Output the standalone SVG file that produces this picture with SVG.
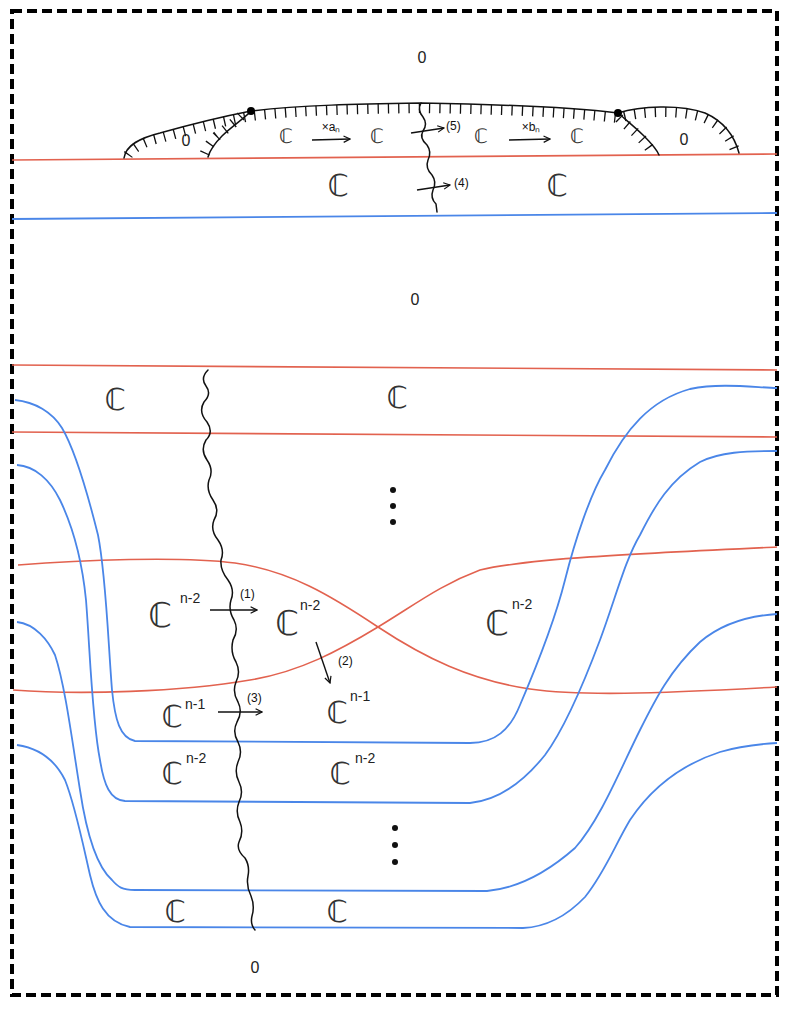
<svg xmlns="http://www.w3.org/2000/svg" width="792" height="1012" viewBox="0 0 792 1012">
<style>
.red{fill:none;stroke:#e2624f;stroke-width:1.6}
.blue{fill:none;stroke:#4a86e8;stroke-width:1.8}
.ink{fill:none;stroke:#111;stroke-width:1.5;stroke-linecap:round;stroke-linejoin:round}
.arr{fill:none;stroke:#111;stroke-width:1.4;marker-end:url(#ah)}
.C{font-family:"DejaVu Sans",sans-serif;fill:#333;text-anchor:middle;font-weight:normal}
.sup{font-family:"Liberation Sans",sans-serif;fill:#222;font-size:14px}
.lbl{font-family:"Liberation Sans",sans-serif;fill:#111;font-size:12px}
.zero{font-family:"Liberation Sans",sans-serif;fill:#222;font-size:16px;text-anchor:middle}
.tick{fill:none;stroke:#111;stroke-width:10;stroke-dasharray:1.3 9}
</style>
<defs>
<marker id="ah" viewBox="0 0 10 10" refX="9" refY="5" markerWidth="8" markerHeight="8" markerUnits="userSpaceOnUse" orient="auto">
<path d="M1,1 L9,5 L1,9" fill="none" stroke="#111" stroke-width="1.5"/>
</marker>
</defs>
<rect x="12" y="11" width="765" height="984" fill="#fff" stroke="#000" stroke-width="4" stroke-dasharray="10 5"/>

<g id="connectors">
<line class="red" x1="12" y1="160" x2="777" y2="154"/>
<line class="blue" x1="12" y1="219" x2="777" y2="213"/>
<line class="red" x1="12" y1="365" x2="777" y2="370"/>
<line class="red" x1="12" y1="432" x2="777" y2="437"/>
<path class="red" d="M18,565 C80,560 180,556 235,563 C290,571 330,595 378,627 C425,658 470,680 530,689 C580,696 650,694 777,687"/>
<path class="red" d="M13,690 C80,695 180,692 250,680 C300,672 340,650 378,627 C416,604 440,585 480,570 C530,558 650,553 777,547"/>
<path class="blue" d="M15,400 C35,402 52,412 62,428 C75,450 88,495 98,535 C106,575 108,640 112,690 C115,720 120,738 135,741 L470,743 C495,743 510,730 520,705 C535,670 555,620 565,580 C575,540 590,495 605,470 C625,430 650,400 690,389 C720,383 750,387 777,388"/>
<path class="blue" d="M17,465 C35,466 50,480 60,500 C72,525 82,560 86,600 C90,650 92,720 100,760 C104,785 110,800 125,801 L470,803 C500,800 525,780 545,755 C565,728 585,680 600,640 C615,600 625,560 640,535 C655,505 670,480 700,462 C720,452 745,451 777,451"/>
<path class="blue" d="M17,622 C35,624 48,640 55,655 C65,685 72,740 80,790 C86,830 95,865 112,880 C118,887 122,890 135,890 L487,891 C520,888 550,870 575,848 C600,820 620,770 640,730 C655,700 670,670 700,642 C720,625 745,616 777,614"/>
<path class="blue" d="M17,745 C38,748 55,760 65,780 C75,805 82,840 90,875 C96,900 105,922 130,927 L523,928 C545,927 565,918 585,897 C605,872 615,845 630,820 C650,790 680,765 720,752 C740,746 760,744 777,743"/>
</g>

<g id="cap">
<path class="ink" d="M124,158 C126,145 140,138 160,133 C185,126 215,118 251,111 C300,105 360,104 421,103 C480,104 560,106 618,113 C640,106 680,104 705,113 C725,122 735,138 739,153"/>
<path class="tick" transform="translate(0,5)" d="M128,150 C135,140 150,135 160,133 C185,126 215,118 251,111 C300,105 360,104 421,103 C480,104 560,106 618,113 C640,106 680,104 705,113 C722,121 730,132 735,145"/>
<path class="ink" d="M251,111 C245,118 232,126 222,136 C214,144 210,150 208,157"/>
<path class="tick" transform="translate(-5,0)" d="M246,116 C240,122 232,128 222,136 C214,144 211,150 209,155"/>
<path class="ink" d="M618,113 C626,120 636,128 644,136 C652,144 657,150 659,155"/>
<path class="tick" transform="translate(-5,0)" d="M624,118 C630,124 636,128 644,136 C652,144 656,150 658,154"/>
<circle cx="251" cy="111" r="4" fill="#000"/>
<circle cx="618" cy="113" r="4" fill="#000"/>
<path class="ink" d="M421,103 Q417,110 423,117 Q428,124 423,131 Q419,138 427,145 Q432,152 428,160 Q425,168 432,175 Q437,182 433,190 Q430,198 436,204 L437,212"/>
</g>

<g id="wall">
<path class="ink" d="M208,370 Q200,378 206,386 Q212,394 204,402 Q198,412 207,422 Q214,432 206,440 Q200,450 207,460 Q214,470 209,480 Q206,490 213,500 Q220,510 214,520 Q210,530 218,540 Q225,550 221,560 Q220,570 228,580 Q235,590 231,600 Q228,610 234,620 Q239,630 233,640 Q230,652 236,662 Q241,672 236,682 Q232,692 238,702 Q243,712 237,722 Q232,732 238,742 Q243,752 238,762 Q234,772 239,782 Q244,792 239,802 Q235,812 240,822 Q244,832 239,842 Q236,850 245,858 Q250,866 248,876 Q246,886 251,896 Q255,906 252,916 Q250,924 255,930"/>
</g>

<g id="top-labels">
<text class="zero" x="422" y="63">0</text>
<text class="zero" x="186" y="146">0</text>
<text class="zero" x="684" y="145">0</text>
<text class="C" x="286" y="143" font-size="20">ℂ</text>
<text class="C" x="377" y="143" font-size="20">ℂ</text>
<text class="C" x="481" y="143" font-size="20">ℂ</text>
<text class="C" x="577" y="143" font-size="20">ℂ</text>
<line class="arr" x1="312" y1="140" x2="350" y2="139"/>
<text class="lbl" x="331" y="131" text-anchor="middle">×aₙ</text>
<line class="arr" x1="509" y1="140" x2="550" y2="139"/>
<text class="lbl" x="531" y="131" text-anchor="middle">×bₙ</text>
<line class="arr" x1="411" y1="133" x2="444" y2="128"/>
<text class="lbl" x="446" y="130">(5)</text>
<text class="C" x="338" y="196" font-size="30">ℂ</text>
<text class="C" x="557" y="196" font-size="30">ℂ</text>
<line class="arr" x1="417" y1="190" x2="450" y2="185"/>
<text class="lbl" x="454" y="187">(4)</text>
<text class="zero" x="415" y="305">0</text>
</g>

<g id="middle-labels">
<text class="C" x="115" y="410" font-size="30">ℂ</text>
<text class="C" x="397" y="408" font-size="30">ℂ</text>
<circle cx="393" cy="490" r="3" fill="#111"/>
<circle cx="393" cy="506" r="3" fill="#111"/>
<circle cx="393" cy="522" r="3" fill="#111"/>
<text class="C" x="160" y="627" font-size="34">ℂ</text><text class="sup" x="180" y="603">n-2</text>
<line class="arr" x1="210" y1="610" x2="257" y2="610"/>
<text class="lbl" x="240" y="598">(1)</text>
<text class="C" x="287" y="635" font-size="34">ℂ</text><text class="sup" x="300" y="610">n-2</text>
<text class="C" x="497" y="635" font-size="34">ℂ</text><text class="sup" x="512" y="609">n-2</text>
<line class="arr" x1="316" y1="642" x2="330" y2="683"/>
<text class="lbl" x="338" y="665">(2)</text>
<text class="C" x="172" y="727" font-size="30">ℂ</text><text class="sup" x="185" y="709">n-1</text>
<line class="arr" x1="218" y1="712" x2="262" y2="712"/>
<text class="lbl" x="247" y="702">(3)</text>
<text class="C" x="337" y="723" font-size="30">ℂ</text><text class="sup" x="350" y="701">n-1</text>
<text class="C" x="172" y="784" font-size="30">ℂ</text><text class="sup" x="186" y="763">n-2</text>
<text class="C" x="340" y="784" font-size="30">ℂ</text><text class="sup" x="355" y="763">n-2</text>
<circle cx="395" cy="828" r="3" fill="#111"/>
<circle cx="395" cy="845" r="3" fill="#111"/>
<circle cx="395" cy="862" r="3" fill="#111"/>
<text class="C" x="175" y="922" font-size="30">ℂ</text>
<text class="C" x="337" y="922" font-size="30">ℂ</text>
<text class="zero" x="255" y="973">0</text>
</g>
</svg>
